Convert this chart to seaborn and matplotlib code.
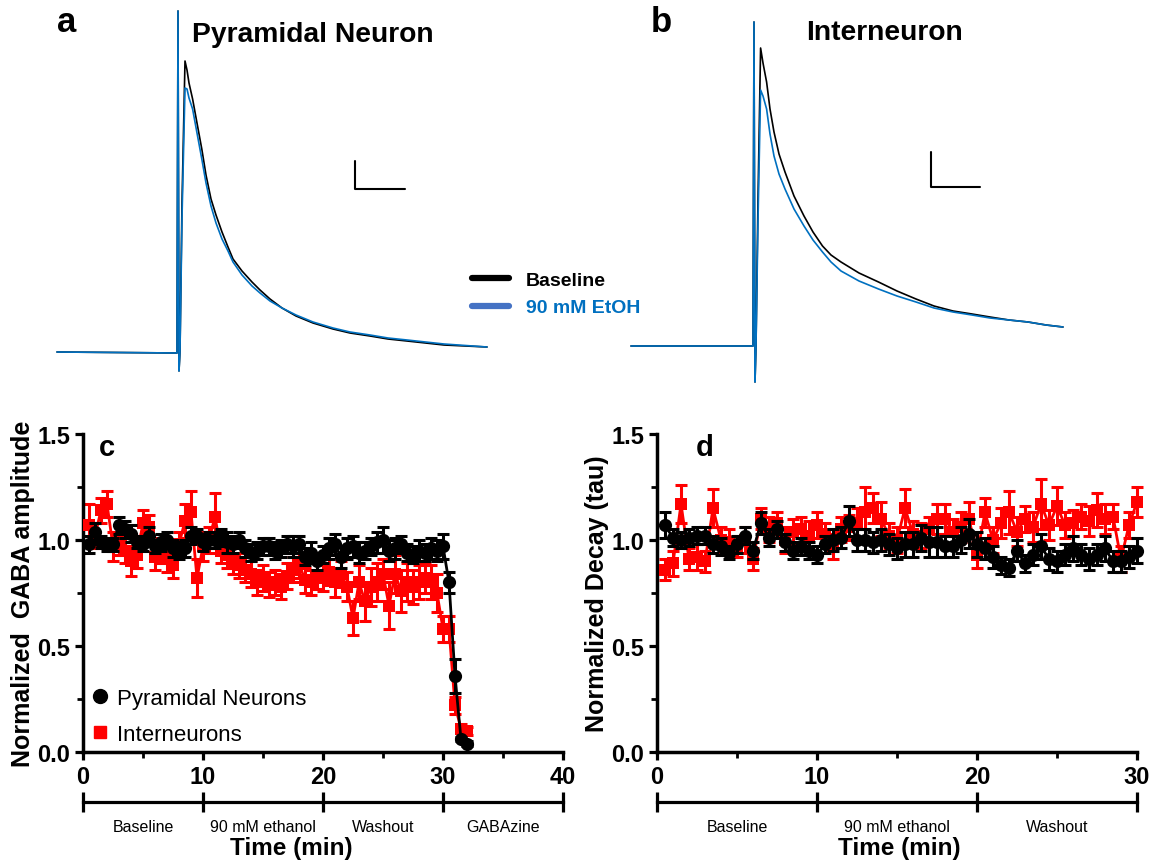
import matplotlib
matplotlib.use("Agg")
import matplotlib.pyplot as plt
from matplotlib.lines import Line2D
import numpy as np
import seaborn as sns

# ---- example traces (ms from stimulus, pA) ----
pyr_ms = [-121, -1, 0, 1, 2, 4, 7, 9, 11, 14.6, 19, 23.8, 28, 33, 38, 44, 50, 55, 64, 74,
          82, 92, 104, 118, 135, 155, 172, 192, 210, 229, 266, 309]
pyr_base = [2, 0, 684, -36, 4, 300, 584, 566, 540, 508, 460, 408, 356, 308, 276, 242, 212, 188, 164, 142,
            126, 108, 90, 74, 60, 48, 40, 34, 28, 24, 16, 12]
pyr_etoh = [2, 0, 684, -36, 4, 270, 530, 528, 510, 488, 440, 388, 340, 294, 260, 228, 204, 182, 156, 134,
            120, 104, 90, 76, 62, 50, 42, 36, 30, 26, 18, 12]

int_ms = [-123, -1, 0, 1, 2, 4, 6.6, 9, 12.6, 16, 20, 25, 31, 40, 50, 59, 68.5, 77, 87, 105,
          124.5, 143, 162, 180, 199, 218, 236, 255, 274, 292, 309]
int_base = [0, 0, 648, -72, 0, 294, 596, 566, 528, 474, 428, 384, 348, 300, 260, 228, 200, 182, 168, 146,
            128, 110, 94, 80, 70, 64, 58, 52, 48, 42, 38]
int_etoh = [0, 0, 648, -72, 0, 250, 512, 500, 474, 424, 380, 344, 314, 274, 240, 212, 188, 168, 150, 130,
            114, 100, 88, 76, 68, 62, 56, 52, 48, 42, 38]

# ---- time courses ----
c_time = np.arange(0.5, 32.01, 0.5)
c_pyr = [0.98, 1.04, 0.99, 0.98, 0.98, 1.07, 1.05, 1.03, 0.99, 0.98,
         1.02, 0.97, 0.99, 1.00, 0.96, 0.95, 0.96, 1.02, 1.02, 0.99,
         1.00, 1.00, 1.01, 0.99, 0.98, 1.00, 0.96, 0.94, 0.95, 0.97,
         0.97, 0.95, 0.96, 0.98, 0.97, 0.98, 0.92, 0.94, 0.90, 0.93,
         0.96, 0.98, 0.92, 0.96, 0.97, 0.94, 0.95, 0.97, 0.99, 1.00,
         0.95, 0.96, 0.98, 0.94, 0.93, 0.95, 0.94, 0.96, 0.95, 0.97,
         0.80, 0.36, 0.06, 0.04]
c_pyr_sem = [0.04, 0.04, 0.03, 0.03, 0.03, 0.04, 0.04, 0.04, 0.03, 0.03,
             0.04, 0.03, 0.04, 0.04, 0.04, 0.04, 0.04, 0.04, 0.03, 0.04,
             0.04, 0.04, 0.04, 0.05, 0.04, 0.04, 0.04, 0.04, 0.04, 0.04,
             0.04, 0.04, 0.04, 0.04, 0.05, 0.04, 0.04, 0.05, 0.04, 0.04,
             0.05, 0.05, 0.05, 0.05, 0.05, 0.05, 0.04, 0.04, 0.05, 0.06,
             0.05, 0.05, 0.04, 0.04, 0.04, 0.05, 0.04, 0.05, 0.05, 0.06,
             0.05, 0.08, 0.01, 0.01]
c_int = [1.07, 1.02, 1.14, 1.17, 0.97, 1.00, 0.95, 0.90, 0.93, 1.08,
         1.06, 0.92, 0.95, 0.91, 0.88, 0.98, 1.09, 1.13, 0.82, 0.97,
         1.00, 1.11, 0.95, 0.93, 0.90, 0.88, 0.86, 0.84, 0.80, 0.82,
         0.79, 0.80, 0.78, 0.83, 0.86, 0.89, 0.81, 0.80, 0.83, 0.82,
         0.85, 0.80, 0.84, 0.78, 0.63, 0.80, 0.71, 0.78, 0.80, 0.84,
         0.69, 0.84, 0.76, 0.80, 0.78, 0.80, 0.82, 0.80, 0.75, 0.58,
         0.58, 0.22, 0.11, 0.10]
c_int_sem = [0.10, 0.06, 0.06, 0.06, 0.07, 0.07, 0.06, 0.07, 0.06, 0.06,
             0.06, 0.06, 0.06, 0.06, 0.06, 0.06, 0.08, 0.10, 0.09, 0.07,
             0.06, 0.11, 0.06, 0.06, 0.06, 0.06, 0.06, 0.06, 0.06, 0.06,
             0.06, 0.06, 0.06, 0.06, 0.06, 0.07, 0.06, 0.06, 0.06, 0.06,
             0.06, 0.07, 0.06, 0.07, 0.08, 0.08, 0.09, 0.09, 0.09, 0.07,
             0.11, 0.09, 0.10, 0.09, 0.08, 0.08, 0.07, 0.08, 0.09, 0.06,
             0.06, 0.04, 0.02, 0.02]

d_time = np.arange(0.5, 30.01, 0.5)
d_pyr = [1.07, 1.01, 1.00, 1.01, 1.02, 1.02, 0.98, 0.97, 0.94, 0.98,
         1.02, 0.95, 1.08, 1.01, 1.05, 0.99, 0.95, 0.97, 0.95, 0.93,
         0.98, 1.00, 1.01, 1.09, 1.00, 1.00, 0.99, 1.00, 0.98, 0.96,
         0.98, 0.98, 1.01, 0.99, 0.99, 0.97, 0.97, 1.00, 1.03, 0.98,
         0.96, 0.92, 0.88, 0.87, 0.95, 0.89, 0.93, 0.97, 0.91, 0.90,
         0.93, 0.96, 0.93, 0.91, 0.93, 0.96, 0.90, 0.90, 0.92, 0.95]
d_pyr_sem = [0.06, 0.04, 0.04, 0.04, 0.04, 0.04, 0.04, 0.04, 0.03, 0.04,
             0.04, 0.04, 0.05, 0.04, 0.04, 0.04, 0.04, 0.04, 0.04, 0.04,
             0.04, 0.05, 0.05, 0.07, 0.05, 0.05, 0.05, 0.05, 0.05, 0.05,
             0.06, 0.06, 0.06, 0.07, 0.07, 0.05, 0.05, 0.06, 0.07, 0.06,
             0.05, 0.05, 0.04, 0.04, 0.05, 0.04, 0.05, 0.06, 0.05, 0.05,
             0.05, 0.06, 0.05, 0.05, 0.05, 0.06, 0.05, 0.05, 0.05, 0.06]
d_int = [0.86, 0.89, 1.17, 0.91, 0.92, 0.90, 1.15, 1.00, 0.99, 0.97,
         1.00, 0.91, 1.10, 1.05, 1.08, 1.00, 1.04, 1.05, 1.02, 1.07,
         1.03, 0.97, 1.05, 1.06, 1.08, 1.13, 1.15, 1.10, 1.02, 1.00,
         1.15, 1.03, 1.02, 1.05, 1.10, 1.10, 1.04, 1.06, 1.10, 0.93,
         1.13, 1.00, 1.08, 1.13, 1.04, 1.10, 1.06, 1.17, 1.07, 1.16,
         1.07, 1.08, 1.11, 1.09, 1.14, 1.10, 1.11, 0.91, 1.07, 1.18]
d_int_sem = [0.05, 0.06, 0.09, 0.05, 0.06, 0.05, 0.09, 0.06, 0.06, 0.05,
             0.06, 0.05, 0.05, 0.06, 0.05, 0.06, 0.06, 0.06, 0.07, 0.06,
             0.05, 0.06, 0.06, 0.06, 0.07, 0.12, 0.07, 0.08, 0.06, 0.06,
             0.09, 0.06, 0.06, 0.06, 0.07, 0.07, 0.06, 0.07, 0.08, 0.06,
             0.07, 0.06, 0.07, 0.10, 0.07, 0.06, 0.07, 0.12, 0.07, 0.09,
             0.06, 0.06, 0.06, 0.07, 0.08, 0.07, 0.06, 0.06, 0.06, 0.07]

c_phases = ["Baseline", "90 mM ethanol", "Washout", "GABAzine"]
d_phases = ["Baseline", "90 mM ethanol", "Washout"]

TRACE_BLUE = "#0070C0"
LEGEND_BLUE = "#4472C4"

sns.set_theme(style="ticks", rc={"text.color": "black", "axes.labelcolor": "black",
                                 "axes.edgecolor": "black", "xtick.color": "black",
                                 "ytick.color": "black"})
plt.rcParams["font.family"] = ["Liberation Sans", "DejaVu Sans"]

fig = plt.figure(figsize=(11.65, 8.62), dpi=100)
W, H = 1165, 862


def px_axes(left, top, right, bottom):
    return fig.add_axes([left / W, 1 - bottom / H, (right - left) / W, (bottom - top) / H])


# ---- panels a, b ----
ax_a = px_axes(40, 0, 520, 390)
ax_b = px_axes(610, 0, 1090, 390)
for ax, t, base, etoh, xl, yl, bar in [
        (ax_a, pyr_ms, pyr_base, pyr_etoh, (-138, 342), (-72, 708), (177, 328, 50, 56)),
        (ax_b, int_ms, int_base, int_etoh, (-144, 336), (-86, 694), (177, 318, 49, 70))]:
    sns.lineplot(x=t, y=base, ax=ax, color="black", linewidth=1.2, sort=False)
    sns.lineplot(x=t, y=etoh, ax=ax, color=TRACE_BLUE, linewidth=1.2, sort=False)
    x0, y0, bw, bh = bar
    ax.plot([x0, x0, x0 + bw], [y0 + bh, y0, y0], color="black", linewidth=1.5)
    ax.set_xlim(*xl)
    ax.set_ylim(*yl)
    ax.set_axis_off()

fig.text(67 / W, 1 - 22 / H, "a", fontsize=25, fontweight="bold", ha="center", va="center")
fig.text(661 / W, 1 - 22 / H, "b", fontsize=25, fontweight="bold", ha="center", va="center")
fig.text(313 / W, 1 - 35 / H, "Pyramidal Neuron", fontsize=20.3, fontweight="bold", ha="center", va="center")
fig.text(884 / W, 1 - 33 / H, "Interneuron", fontsize=20.3, fontweight="bold", ha="center", va="center")

top_handles = [Line2D([], [], color="black", linewidth=4.5),
               Line2D([], [], color=LEGEND_BLUE, linewidth=4.5)]
leg = fig.legend(top_handles, ["Baseline", "90 mM EtOH"], loc="center left",
                 bbox_to_anchor=(454 / W, 1 - 295 / H), frameon=False,
                 prop={"size": 14, "weight": "bold"}, handlelength=1.95,
                 handletextpad=0.85, labelspacing=0.5)
leg.get_texts()[1].set_color(TRACE_BLUE)


# ---- panels c, d ----
def timecourse(ax, t, pyr, pyr_sem, inter, inter_sem, xmax, phases, ylabel, letter, letter_x, xlabel_x):
    ax.errorbar(t, inter, yerr=inter_sem, fmt="none", ecolor="red", elinewidth=2.2,
                capsize=4.5, capthick=2.2, zorder=2, clip_on=False)
    sns.lineplot(x=t, y=inter, ax=ax, color="red", marker="s", markersize=8.5,
                 markeredgewidth=0, linewidth=2, zorder=3, clip_on=False)
    ax.errorbar(t, pyr, yerr=pyr_sem, fmt="none", ecolor="black", elinewidth=2.2,
                capsize=4.5, capthick=2.2, zorder=4, clip_on=False)
    sns.lineplot(x=t, y=pyr, ax=ax, color="black", marker="o", markersize=9.5,
                 markeredgewidth=0, linewidth=2, zorder=5, clip_on=False)

    ax.set_xlim(0, xmax)
    ax.set_ylim(0, 1.5)
    sns.despine(ax=ax)
    for s in ("left", "bottom"):
        ax.spines[s].set_linewidth(2.5)
    majors = list(range(0, xmax + 1, 10))
    ax.set_xticks(majors, labels=[str(m) for m in majors], fontsize=17, fontweight="bold")
    ax.set_xticks([m + 5 for m in majors[:-1]], minor=True)
    ax.set_yticks([0, 0.5, 1.0, 1.5], labels=["0.0", "0.5", "1.0", "1.5"],
                  fontsize=17, fontweight="bold")
    ax.set_yticks([0.25, 0.75, 1.25], minor=True)
    ax.tick_params(which="major", direction="out", length=6, width=2.3, pad=3)
    ax.tick_params(which="minor", direction="out", length=4, width=2.0)
    ax.set_ylabel(ylabel, fontsize=18, fontweight="bold", labelpad=2)
    ax.text(letter_x, 0.96, letter, transform=ax.transAxes, fontsize=21,
            fontweight="bold", ha="center", va="center")

    sec = ax.secondary_xaxis(-0.157)
    sec.set_xticks(majors)
    sec.set_xticks([m + 5 for m in majors[:-1]], labels=phases, minor=True, fontsize=11.5)
    sec.tick_params(which="major", direction="inout", length=14, width=2.3, labelbottom=False)
    sec.tick_params(which="minor", length=0, pad=12)
    sec.spines["bottom"].set_linewidth(2.3)
    sec.set_xlabel("Time (min)", fontsize=17.5, fontweight="bold", labelpad=2)
    sec.xaxis.label.set_x(xlabel_x)


ax_c = px_axes(83, 435, 563, 753)
ax_d = px_axes(657, 435, 1137, 753)
timecourse(ax_c, c_time, c_pyr, c_pyr_sem, c_int, c_int_sem, 40, c_phases,
           "Normalized  GABA amplitude", "c", 0.05, 0.435)
timecourse(ax_d, d_time, d_pyr, d_pyr_sem, d_int, d_int_sem, 30, d_phases,
           "Normalized Decay (tau)", "d", 0.10, 0.505)

c_handles = [Line2D([], [], color="black", marker="o", linestyle="none", markersize=10),
             Line2D([], [], color="red", marker="s", linestyle="none", markersize=9)]
ax_c.legend(c_handles, ["Pyramidal Neurons", "Interneurons"], loc="lower left",
            bbox_to_anchor=(-0.025, -0.04), frameon=False, fontsize=16,
            handlelength=0.8, handletextpad=0.36, labelspacing=0.67)

fig.savefig("out.png", dpi=100)
